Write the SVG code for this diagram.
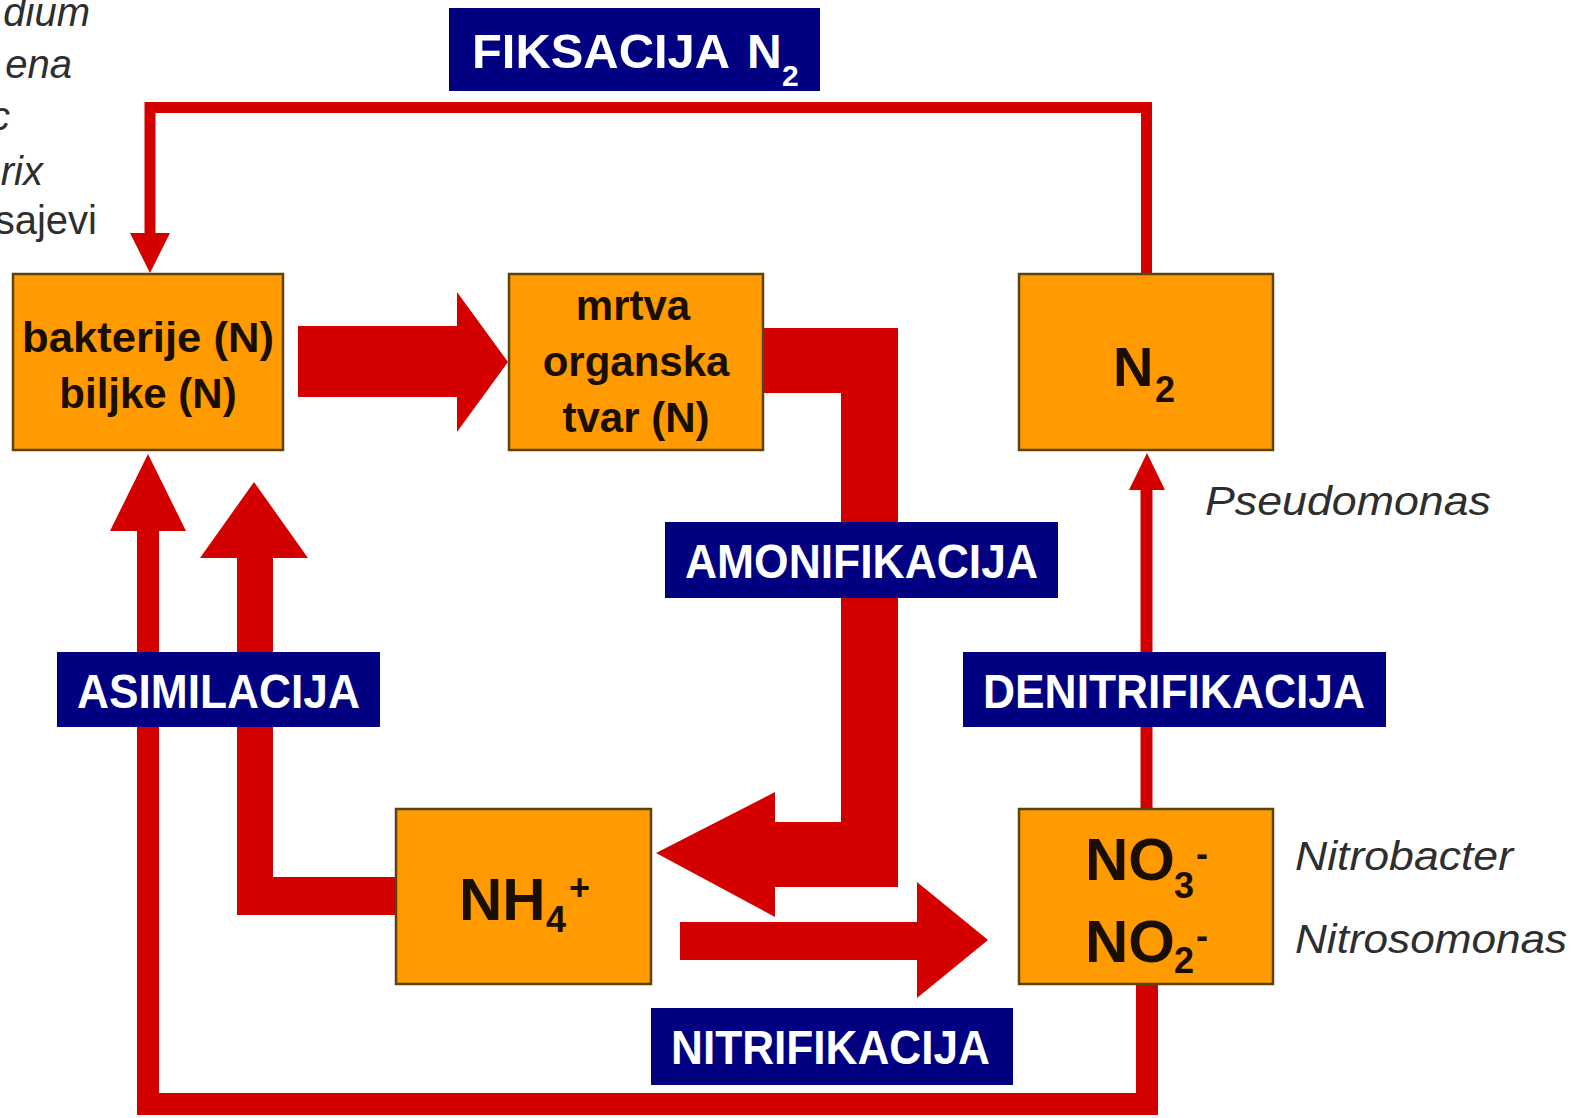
<svg xmlns="http://www.w3.org/2000/svg" width="1575" height="1118" viewBox="0 0 1575 1118">
<style>
.box{fill:#FF9A00;stroke:#5a4512;stroke-width:2.5}
.bt{font-family:"Liberation Sans",Arial,sans-serif;font-weight:bold;fill:#1a0e00;text-anchor:middle;font-size:42px}
.lab{fill:#000080}
.lt{font-family:"Liberation Sans",Arial,sans-serif;font-weight:bold;fill:#ffffff;font-size:48px}
.it{font-family:"Liberation Sans",Arial,sans-serif;font-style:italic;fill:#2e2e2e;font-size:40px}
.red{fill:#D40000}
.ln{fill:none;stroke:#D40000;stroke-linejoin:miter}
</style>
<rect width="1575" height="1118" fill="#ffffff"/>

<g id="organisms-cropped">
<text class="it" x="90" y="26" text-anchor="end">dium</text>
<text class="it" x="72" y="78" text-anchor="end">ena</text>
<text class="it" x="10" y="130" text-anchor="end">c</text>
<text class="it" x="43" y="185" text-anchor="end">rix</text>
<text class="it" x="97" y="234" text-anchor="end" style="font-style:normal">sajevi</text>
</g>

<g id="connectors">
<polyline class="ln" stroke-width="11" points="1146.5,276 1146.5,107.5 150,107.5 150,234"/>
<polygon class="red" points="130,233 170,233 150,273"/>
<polygon class="red" points="298,326 457,326 457,292 508,362 457,432 457,397 298,397"/>
<polygon class="red" points="764,328 898,328 898,887 775,887 775,917 656,853 775,792 775,822 841,822 841,393 764,393"/>
<polygon class="red" points="680,922 917,922 917,882 988,940 917,998 917,960 680,960"/>
<polygon class="red" points="396,877 273,877 273,558 308,558 254,482 200,558 237,558 237,915 396,915"/>
<polyline class="ln" stroke-width="22" points="1147,984 1147,1104 148,1104 148,531"/>
<polygon class="red" points="110,531 186,531 148,454"/>
<line class="ln" stroke-width="12" x1="1146.5" y1="809" x2="1146.5" y2="488"/>
<polygon class="red" points="1129,490 1165,490 1147,453"/>
</g>

<g id="node-bakterije">
<rect class="box" x="13" y="274" width="270" height="176"/>
<text class="bt" x="148" y="352" textLength="252" lengthAdjust="spacingAndGlyphs">bakterije (N)</text>
<text class="bt" x="148" y="408">biljke (N)</text>
</g>
<g id="node-mrtva">
<rect class="box" x="509" y="274" width="254" height="176"/>
<text class="bt" x="633" y="320">mrtva</text>
<text class="bt" x="636" y="376">organska</text>
<text class="bt" x="636" y="432">tvar (N)</text>
</g>
<g id="node-n2">
<rect class="box" x="1019" y="274" width="254" height="176"/>
<text class="bt" style="font-size:56px;text-anchor:start" x="1113" y="386">N<tspan x="1155" y="402" style="font-size:36px">2</tspan></text>
</g>
<g id="node-nh4">
<rect class="box" x="396" y="809" width="255" height="175"/>
<text class="bt" style="font-size:60px;text-anchor:start" x="459" y="920">NH<tspan x="546" y="932" style="font-size:36px">4</tspan><tspan x="569" y="900" style="font-size:36px">+</tspan></text>
</g>
<g id="node-no3">
<rect class="box" x="1019" y="809" width="254" height="175"/>
<text class="bt" style="font-size:60px;text-anchor:start" x="1085" y="880">NO<tspan x="1174" y="898" style="font-size:36px">3</tspan><tspan x="1196" y="866" style="font-size:36px">-</tspan></text>
<text class="bt" style="font-size:60px;text-anchor:start" x="1085" y="962">NO<tspan x="1174" y="973" style="font-size:36px">2</tspan><tspan x="1196" y="948" style="font-size:36px">-</tspan></text>
</g>

<g id="label-fiksacija">
<rect class="lab" x="449" y="8" width="371" height="83"/>
<text class="lt" x="472" y="68" textLength="258" lengthAdjust="spacingAndGlyphs">FIKSACIJA</text>
<text class="lt" x="747" y="68">N<tspan x="782" y="86" style="font-size:30px">2</tspan></text>
</g>
<g id="label-amonifikacija">
<rect class="lab" x="665" y="522" width="393" height="76"/>
<text class="lt" x="685" y="578" textLength="353" lengthAdjust="spacingAndGlyphs">AMONIFIKACIJA</text>
</g>
<g id="label-asimilacija">
<rect class="lab" x="57" y="652" width="323" height="75"/>
<text class="lt" x="77" y="708" textLength="283" lengthAdjust="spacingAndGlyphs">ASIMILACIJA</text>
</g>
<g id="label-denitrifikacija">
<rect class="lab" x="963" y="652" width="423" height="75"/>
<text class="lt" x="983" y="708" textLength="382" lengthAdjust="spacingAndGlyphs">DENITRIFIKACIJA</text>
</g>
<g id="label-nitrifikacija">
<rect class="lab" x="651" y="1008" width="362" height="77"/>
<text class="lt" x="671" y="1064" textLength="319" lengthAdjust="spacingAndGlyphs">NITRIFIKACIJA</text>
</g>

<g id="bacteria-names">
<text class="it" x="1205" y="515" textLength="286" lengthAdjust="spacingAndGlyphs">Pseudomonas</text>
<text class="it" x="1295" y="870" textLength="218" lengthAdjust="spacingAndGlyphs">Nitrobacter</text>
<text class="it" x="1295" y="953" textLength="272" lengthAdjust="spacingAndGlyphs">Nitrosomonas</text>
</g>
</svg>
